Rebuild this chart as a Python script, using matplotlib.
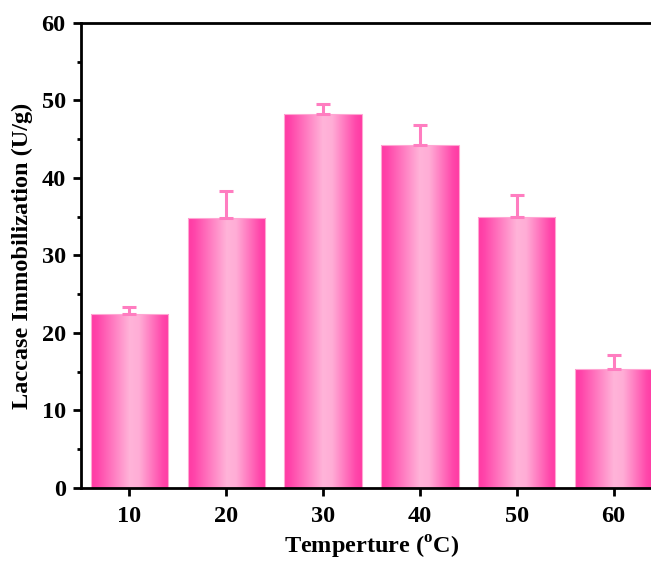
import numpy as np
import matplotlib
matplotlib.use('Agg')
import matplotlib.pyplot as plt
from matplotlib.colors import LinearSegmentedColormap
from matplotlib.ticker import MultipleLocator

# values
temps = [10, 20, 30, 40, 50, 60]
activity = [22.4, 34.8, 48.3, 44.3, 35.0, 15.3]
errors = [0.9, 3.5, 1.2, 2.5, 2.8, 1.8]

plt.rcParams['font.family'] = ['Liberation Serif', 'DejaVu Serif']
plt.rcParams['font.weight'] = 'bold'
plt.rcParams['mathtext.fontset'] = 'custom'
plt.rcParams['mathtext.rm'] = 'Liberation Serif:bold'
plt.rcParams['mathtext.bf'] = 'Liberation Serif:bold'

fig = plt.figure(figsize=(6.51, 5.69), dpi=100)
# axes runs past the right edge of the figure, as in the cropped original
ax = fig.add_axes([0.1244, 0.1424, 0.8925, 0.8172])

# pink gradient: dark edges, light middle
grad = LinearSegmentedColormap.from_list(
    'pinkbar', [(0.0, '#FF3AA3'), (0.08, '#FF45AA'), (0.5, '#FFB4D9'),
                (0.62, '#FFADD6'), (0.92, '#FF48AB'), (1.0, '#FF3AA3')])
gx = np.linspace(0, 1, 256).reshape(1, -1)

bars = ax.bar(temps, activity, width=8, color='none', edgecolor='#FFA6D3',
              linewidth=0.8, zorder=2)
for b in bars:
    x0, w, h = b.get_x(), b.get_width(), b.get_height()
    im = ax.imshow(gx, cmap=grad, aspect='auto', extent=[x0, x0 + w, 0, h],
                   zorder=1, interpolation='bicubic')
    im.set_clip_path(b)

ax.errorbar(temps, activity, yerr=[np.zeros(len(errors)), errors], fmt='none',
            ecolor='#FF7DC0', elinewidth=2.2, capsize=5, capthick=2.2, zorder=3)

ax.set_xlim(5, 65)
ax.set_ylim(0, 60)
ax.set_xticks(temps)
ax.yaxis.set_major_locator(MultipleLocator(10))
ax.yaxis.set_minor_locator(MultipleLocator(5))

for side in ['left', 'bottom', 'top']:
    ax.spines[side].set_linewidth(2)
ax.spines['right'].set_visible(False)

ax.tick_params(axis='both', which='major', direction='out', length=6, width=2,
               labelsize=17.5)
ax.tick_params(axis='x', which='major', pad=7)
ax.tick_params(axis='y', which='major', pad=5)
ax.tick_params(axis='y', which='minor', direction='out', length=3, width=2)
for lab in ax.get_xticklabels() + ax.get_yticklabels():
    lab.set_fontweight('bold')

ax.set_xlabel('Temperture ($^{\\mathrm{o}}$C)', fontsize=17.5, fontweight='bold',
              labelpad=5)
ax.set_ylabel('Laccase Immobilization (U/g)', fontsize=17.5, fontweight='bold',
              labelpad=6)

fig.savefig('out.png', dpi=100)
